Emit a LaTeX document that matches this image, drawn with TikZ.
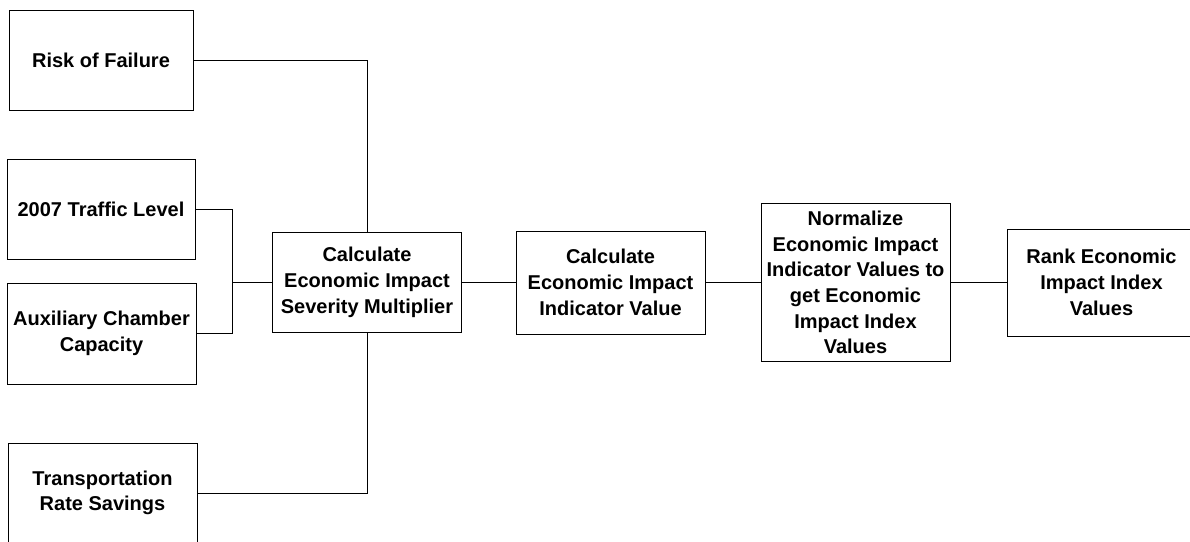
\documentclass[tikz,border=0pt]{standalone}
\usepackage{fontspec}
\setmainfont{Liberation Sans}
\begin{document}
\begin{tikzpicture}[x=1pt,y=-1pt,
  box/.style={draw,line width=1pt,inner sep=0pt,align=center,
    font=\fontsize{20}{25.7}\selectfont\bfseries},
  conn/.style={line width=1pt}]
\useasboundingbox (0,0) rectangle (1190,541);
\clip (0,0) rectangle (1190,541);
\node[box,minimum width=184,minimum height=100] (risk) at (101,60) {Risk of Failure};
\node[box,minimum width=188,minimum height=100] (traffic) at (101,209) {2007 Traffic Level};
\node[box,minimum width=189,minimum height=101] (aux) at (101.5,333.5) {Auxiliary Chamber\\Capacity};
\node[box,minimum width=189,minimum height=100] (trans) at (102.5,493) {Transportation\\Rate Savings};
\node[box,minimum width=189,minimum height=100] (calc) at (367,282.5) {Calculate\\Economic Impact\\Severity Multiplier};
\node[box,minimum width=189,minimum height=103] (ind) at (610.5,282.5) {Calculate\\Economic Impact\\Indicator Value};
\node[box,minimum width=189,minimum height=158] (norm) at (855.5,282.5) {Normalize\\Economic Impact\\Indicator Values to\\get Economic\\Impact Index\\Values};
\node[box,minimum width=189,minimum height=107] (rank) at (1101.5,282.5) {Rank Economic\\Impact Index\\Values};
\coordinate (bus) at (232,282.5);
\draw[conn] (risk.east) -| (calc.north);
\draw[conn] (traffic.east) -| (bus);
\draw[conn] (aux.east) -| (bus);
\draw[conn] (bus) -- (bus -| calc.west);
\draw[conn] (calc.south) |- (trans.east);
\draw[conn] (calc.east) -- (ind.west);
\draw[conn] (ind.east) -- (norm.west);
\draw[conn] (norm.east) -- (rank.west);
\end{tikzpicture}
\end{document}
